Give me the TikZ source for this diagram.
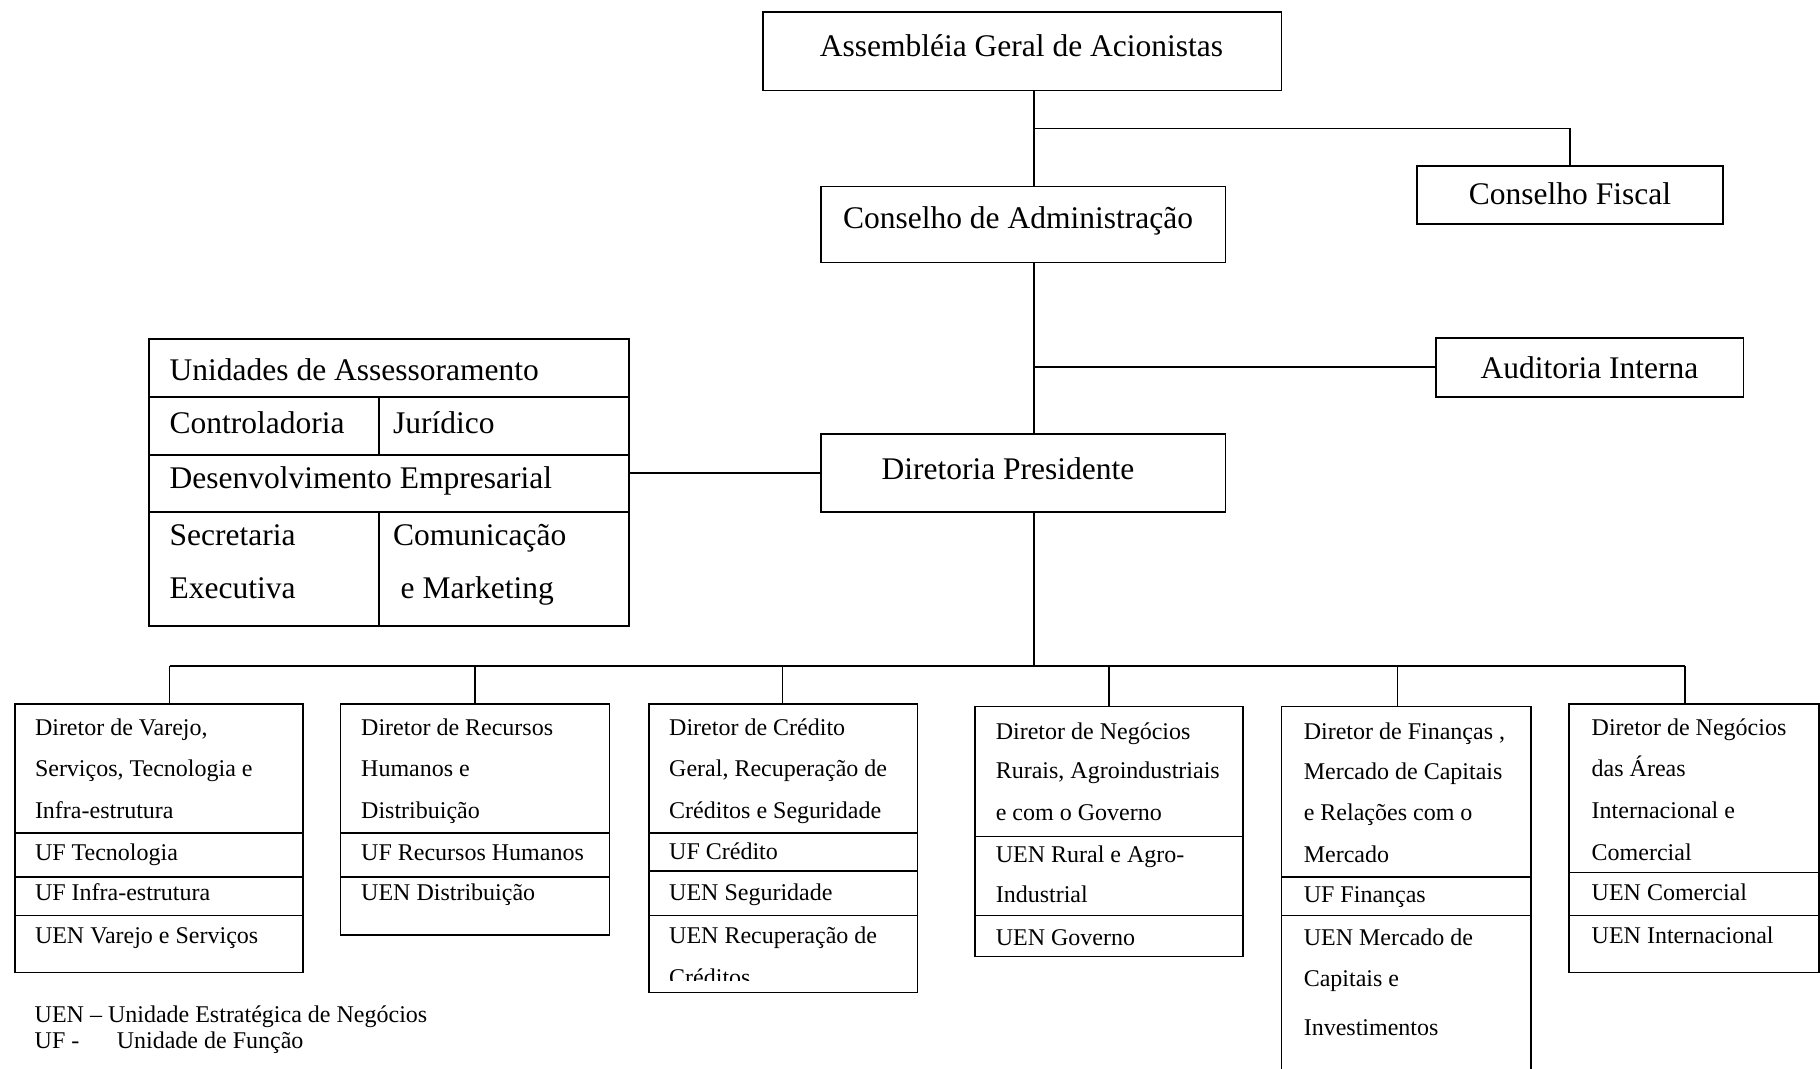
\documentclass[tikz,border=0pt]{standalone}
\usepackage{fontspec}
\setmainfont{Liberation Serif}
\begin{document}
\begin{tikzpicture}[x=1pt,y=-1pt,
  box/.style={draw, line width=1.8pt, inner sep=0pt, outer sep=0pt, anchor=north west},
  conn/.style={line width=1.5pt},
  divline/.style={line width=1.8pt},
  bigtxt/.style={inner sep=0pt, anchor=base, font=\fontsize{31.5}{38}\selectfont},
  bigl/.style={inner sep=0pt, anchor=base west, font=\fontsize{31.5}{38}\selectfont},
  sml/.style={inner sep=0pt, anchor=base west, font=\fontsize{24}{29}\selectfont},
]
\clip (0,0) rectangle (1820,1068);
\fill[white] (0,0) rectangle (1820,1068);

% ---- top boxes
\node[box, minimum width=518.8pt, minimum height=78.9pt] (A) at (762.6,11.6) {};
\node[bigtxt] (At) at (1021.5,56.7) {Assembléia Geral de Acionistas};
\node[box, minimum width=306pt, minimum height=58.2pt] (CF) at (1417,166) {};
\node[bigtxt] (CFt) at (1570,204) {Conselho Fiscal};
\node[box, minimum width=404.5pt, minimum height=76pt] (CA) at (821,186.5) {};
\node[bigtxt] (CAt) at (1018,228.3) {Conselho de Administração};
\node[box, minimum width=307.8pt, minimum height=58.4pt] (AI) at (1435.6,338.3) {};
\node[bigtxt] (AIt) at (1589.5,378.3) {Auditoria Interna};
\node[box, minimum width=404.5pt, minimum height=78pt] (DP) at (821,434) {};
\node[bigtxt] (DPt) at (1008,479.5) {Diretoria Presidente};

% ---- Unidades de Assessoramento
\node[box, minimum width=480.3pt, minimum height=287.5pt] (UA) at (148.8,338.8) {};
\draw[divline] (UA.west |- 0,396.7) -- (UA.east |- 0,396.7);
\draw[divline] (UA.west |- 0,454.7) -- (UA.east |- 0,454.7);
\draw[divline] (UA.west |- 0,512.3) -- (UA.east |- 0,512.3);
\draw[divline] (379,396.7) -- (379,454.7);
\draw[divline] (379,512.3) -- (UA.south -| 379,0);
\node[bigl] (u1) at (169.5,380) {Unidades de Assessoramento};
\node[bigl] (u2) at (169.5,433.3) {Controladoria};
\node[bigl] (u3) at (393,433.3) {Jurídico};
\node[bigl] (u4) at (169.5,488.3) {Desenvolvimento Empresarial};
\node[bigl] (u5) at (169.5,545) {Secretaria};
\node[bigl] (u6) at (169.5,598.3) {Executiva};
\node[bigl] (u7) at (393,545) {Comunicação};
\node[bigl] (u8) at (400.5,598.3) {e Marketing};

% ---- director boxes
\node[box, minimum width=288pt, minimum height=268.5pt] (B1) at (15,704) {};
\node[box, minimum width=268.9pt, minimum height=231pt] (B2) at (340.5,704) {};
\node[box, minimum width=268.5pt, minimum height=288.5pt] (B3) at (648.9,704) {};
\node[box, minimum width=268.1pt, minimum height=250pt] (B4) at (975,706.5) {};
\node[box, minimum width=249.9pt, minimum height=380pt] (B5) at (1281.4,706.5) {};
\node[box, minimum width=249.7pt, minimum height=268.5pt] (B6) at (1569.3,704) {};

% dividers
\draw[divline] (B1.west |- 0,832.7) -- (B1.east |- 0,832.7);
\draw[divline] (B1.west |- 0,876.7) -- (B1.east |- 0,876.7);
\draw[divline] (B1.west |- 0,915.5) -- (B1.east |- 0,915.5);
\draw[divline] (B2.west |- 0,832.7) -- (B2.east |- 0,832.7);
\draw[divline] (B2.west |- 0,876.7) -- (B2.east |- 0,876.7);
\draw[divline] (B3.west |- 0,832.7) -- (B3.east |- 0,832.7);
\draw[divline] (B3.west |- 0,871.2) -- (B3.east |- 0,871.2);
\draw[divline] (B3.west |- 0,915.5) -- (B3.east |- 0,915.5);
\draw[divline] (B4.west |- 0,836.5) -- (B4.east |- 0,836.5);
\draw[divline] (B4.west |- 0,915.5) -- (B4.east |- 0,915.5);
\draw[divline] (B5.west |- 0,876.7) -- (B5.east |- 0,876.7);
\draw[divline] (B5.west |- 0,915.5) -- (B5.east |- 0,915.5);
\draw[divline] (B6.west |- 0,872.5) -- (B6.east |- 0,872.5);
\draw[divline] (B6.west |- 0,915.5) -- (B6.east |- 0,915.5);

% texts B1
\node[sml] (b1a) at (34.8,735) {Diretor de Varejo,};
\node[sml] (b1b) at (34.8,776.8) {Serviços, Tecnologia e};
\node[sml] (b1c) at (34.8,818.5) {Infra-estrutura};
\node[sml] (b1d) at (34.8,860) {UF Tecnologia};
\node[sml] (b1e) at (34.8,900.8) {UF Infra-estrutura};
\node[sml] (b1f) at (34.8,943.3) {UEN Varejo e Serviços};
% texts B2
\node[sml] (b2a) at (361,735) {Diretor de Recursos};
\node[sml] (b2b) at (361,776.8) {Humanos e};
\node[sml] (b2c) at (361,818.5) {Distribuição};
\node[sml] (b2d) at (361,860) {UF Recursos Humanos};
\node[sml] (b2e) at (361,900.8) {UEN Distribuição};
% texts B3
\node[sml] (b3a) at (669,735) {Diretor de Crédito};
\node[sml] (b3b) at (669,776.8) {Geral, Recuperação de};
\node[sml] (b3c) at (669,818.5) {Créditos e Seguridade};
\node[sml] (b3d) at (669,859.3) {UF Crédito};
\node[sml] (b3e) at (669,900.8) {UEN Seguridade};
\node[sml] (b3f) at (669,943.3) {UEN Recuperação de};
\begin{scope}
\clip (640,960) rectangle (930,980.5);
\node[sml] (b3g) at (669,985) {Créditos};
\end{scope}
% texts B4
\node[sml] (b4a) at (995.6,739.3) {Diretor de Negócios};
\node[sml] (b4b) at (995.6,778.5) {Rurais, Agroindustriais};
\node[sml] (b4c) at (995.6,820) {e com o Governo};
\node[sml] (b4d) at (995.6,862.7) {UEN Rural e Agro-};
\node[sml] (b4e) at (995.6,902.7) {Industrial};
\node[sml] (b4f) at (995.6,945) {UEN Governo};
% texts B5
\node[sml] (b5a) at (1303.6,739.3) {Diretor de Finanças ,};
\node[sml] (b5b) at (1303.6,779.3) {Mercado de Capitais};
\node[sml] (b5c) at (1303.6,820) {e Relações com o};
\node[sml] (b5d) at (1303.6,862.7) {Mercado};
\node[sml] (b5e) at (1303.6,902.7) {UF Finanças};
\node[sml] (b5f) at (1303.6,945) {UEN Mercado de};
\node[sml] (b5g) at (1303.6,986.7) {Capitais e};
\node[sml] (b5h) at (1303.6,1035) {Investimentos};
% texts B6
\node[sml] (b6a) at (1591.5,735) {Diretor de Negócios};
\node[sml] (b6b) at (1591.5,776.8) {das Áreas};
\node[sml] (b6c) at (1591.5,818.5) {Internacional e};
\node[sml] (b6d) at (1591.5,860) {Comercial};
\node[sml] (b6e) at (1591.5,900.8) {UEN Comercial};
\node[sml] (b6f) at (1591.5,943.3) {UEN Internacional};

% legend
\node[sml] (lg1) at (34.5,1022.7) {UEN – Unidade Estratégica de Negócios};
\node[sml] (lg2) at (34.5,1048.3) {UF -};
\node[sml] (lg3) at (116.6,1048.3) {Unidade de Função};

% ---- connectors
\coordinate (sp) at (1034,0);
\coordinate (cfj) at (1034,128.5);
\coordinate (aij) at (1034,366.8);
\coordinate (bus1) at (169.5,666.2);
\coordinate (bus2) at (475,666.2);
\coordinate (bus3) at (782.5,666.2);
\coordinate (bus4) at (1109,666.2);
\coordinate (bus5) at (1397.5,666.2);
\coordinate (bus6) at (1685.2,666.2);
\draw[conn] (A.south -| sp) -- (CA.north -| sp);
\draw[conn] (cfj) -| (CF.north);
\draw[conn] (CA.south -| sp) -- (DP.north -| sp);
\draw[conn] (aij) -- (AI.west |- aij);
\draw[conn] (UA.east |- DP.west) -- (DP.west);
\draw[conn] (DP.south -| sp) -- (bus1 -| sp);
\draw[conn] (bus1) -- (bus6);
\draw[conn] (bus1) -- (bus1 |- B1.north);
\draw[conn] (bus2) -- (bus2 |- B2.north);
\draw[conn] (bus3) -- (bus3 |- B3.north);
\draw[conn] (bus4) -- (bus4 |- B4.north);
\draw[conn] (bus5) -- (bus5 |- B5.north);
\draw[conn] (bus6) -- (bus6 |- B6.north);
\end{tikzpicture}
\end{document}
